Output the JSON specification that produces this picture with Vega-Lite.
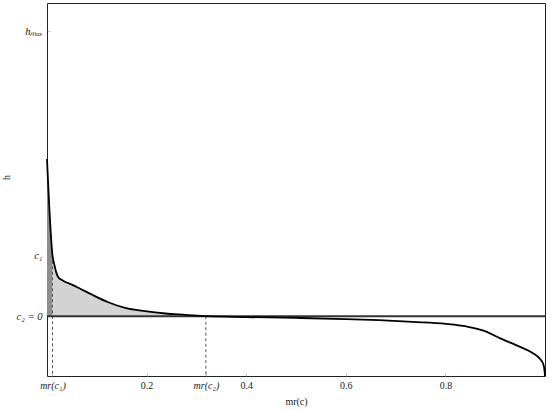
{
  "$schema": "https://vega.github.io/schema/vega-lite/v6.json",
  "width": 498,
  "height": 373,
  "autosize": {"type": "none"},
  "padding": {"left": 47, "top": 3, "right": 5, "bottom": 34},
  "background": "white",
  "config": {
    "view": {"stroke": "#222", "strokeWidth": 1},
    "font": "Liberation Serif"
  },
  "datasets": {
    "curve": [
      {"x": 0, "h": 0.552},
      {"x": 0.011, "h": 0.214},
      {"x": 0.0147, "h": 0.181},
      {"x": 0.0187, "h": 0.153},
      {"x": 0.0227, "h": 0.137},
      {"x": 0.03, "h": 0.127},
      {"x": 0.036, "h": 0.121},
      {"x": 0.05, "h": 0.111},
      {"x": 0.063, "h": 0.1},
      {"x": 0.09, "h": 0.076},
      {"x": 0.123, "h": 0.049},
      {"x": 0.157, "h": 0.029},
      {"x": 0.197, "h": 0.0175},
      {"x": 0.238, "h": 0.0095},
      {"x": 0.278, "h": 0.005},
      {"x": 0.319, "h": 0},
      {"x": 0.4, "h": -0.003},
      {"x": 0.5, "h": -0.006},
      {"x": 0.6, "h": -0.01},
      {"x": 0.667, "h": -0.014},
      {"x": 0.734, "h": -0.02},
      {"x": 0.801, "h": -0.027},
      {"x": 0.842, "h": -0.036},
      {"x": 0.882, "h": -0.054},
      {"x": 0.909, "h": -0.077},
      {"x": 0.949, "h": -0.107},
      {"x": 0.976, "h": -0.13},
      {"x": 0.989, "h": -0.148},
      {"x": 0.996, "h": -0.166},
      {"x": 0.999, "h": -0.19},
      {"x": 1.0, "h": -0.21}
    ],
    "marks": [
      {"x": 0.011, "top": 0.214, "bottom": -0.21},
      {"x": 0.319, "top": 0, "bottom": -0.21}
    ]
  },
  "layer": [
    {
      "data": {"name": "curve"},
      "transform": [{"filter": "datum.x <= 0.011"}],
      "mark": {"type": "area", "color": "#8e8e8e", "interpolate": "linear"},
      "encoding": {
        "x": {"field": "x", "type": "quantitative", "scale": {"domain": [0, 1], "nice": false, "zero": false},
          "axis": {
            "values": [0.011, 0.2, 0.319, 0.4, 0.6, 0.8],
            "labelExpr": "datum.value == 0.011 ? 'mr(c₁)' : datum.value == 0.319 ? 'mr(c₂)' : format(datum.value, '.1f')",
            "labelFontStyle": {"condition": {"test": "datum.value == 0.011 || datum.value == 0.319", "value": "italic"}, "value": "normal"},
            "labelFont": "Liberation Serif",
            "labelFontSize": 10,
            "labelColor": "#222",
            "labelPadding": 7,
            "tickSize": -3,
            "tickColor": "#999",
            "tickWidth": 0.6,
            "domain": false,
            "grid": false,
            "title": "mr(c)",
            "titleFont": "Liberation Serif",
            "titleFontWeight": "normal",
            "titleFontSize": 10,
            "titleColor": "#222",
            "titleBaseline": "middle",
            "titleY": 25
          }},
        "y": {"field": "h", "type": "quantitative", "stack": null, "scale": {"domain": [-0.21, 1.1], "nice": false, "zero": false},
          "axis": {
            "values": [0, 0.214, 1],
            "labelExpr": "datum.value == 0 ? 'c₂ = 0' : datum.value == 1 ? 'hₘₐₓ' : 'c₁'",
            "labelFontStyle": "italic",
            "labelFont": "Liberation Serif",
            "labelFontSize": 10.5,
            "labelColor": "#222",
            "labelPadding": 8,
            "tickSize": -3,
            "tickColor": "#999",
            "tickWidth": 0.6,
            "domain": false,
            "grid": false,
            "title": "h",
            "titleFont": "Liberation Serif",
            "titleFontWeight": "normal",
            "titleFontSize": 10,
            "titleColor": "#222",
            "titleAngle": 270,
            "titleBaseline": "middle",
            "titleAlign": "center",
            "titleX": -41,
            "titleY": 174
          }}
      }
    },
    {
      "data": {"name": "curve"},
      "transform": [{"filter": "datum.x >= 0.011 && datum.x <= 0.319"}],
      "mark": {"type": "area", "color": "#d3d3d3", "interpolate": "monotone"},
      "encoding": {
        "x": {"field": "x", "type": "quantitative"},
        "y": {"field": "h", "type": "quantitative", "stack": null}
      }
    },
    {
      "data": {"name": "marks"},
      "mark": {"type": "rule", "color": "#555", "strokeWidth": 1, "strokeDash": [3, 2.5]},
      "encoding": {
        "x": {"field": "x", "type": "quantitative"},
        "y": {"field": "top", "type": "quantitative"},
        "y2": {"field": "bottom"}
      }
    },
    {
      "data": {"values": [{"h": 0}]},
      "mark": {"type": "rule", "color": "#333", "strokeWidth": 2},
      "encoding": {
        "y": {"field": "h", "type": "quantitative"}
      }
    },
    {
      "data": {"name": "curve"},
      "mark": {"type": "line", "color": "#000", "strokeWidth": 1.8, "interpolate": "monotone"},
      "encoding": {
        "x": {"field": "x", "type": "quantitative"},
        "y": {"field": "h", "type": "quantitative"}
      }
    }
  ]
}
